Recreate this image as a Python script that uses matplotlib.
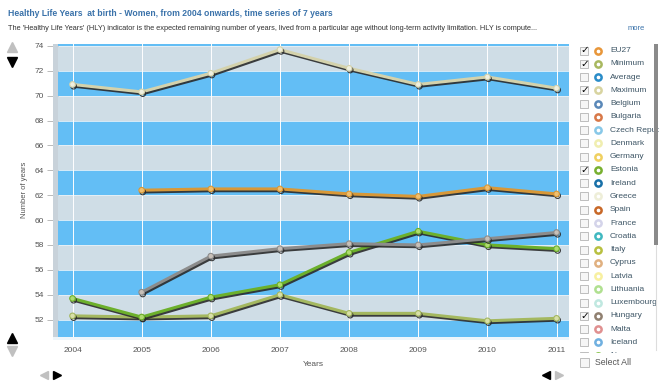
import matplotlib
matplotlib.use('Agg')
import matplotlib.pyplot as plt
import matplotlib.patheffects as pe
from matplotlib.patches import Rectangle

# === data ===
years = [2004, 2005, 2006, 2007, 2008, 2009, 2010, 2011]
maximum = [70.9, 70.3, 71.8, 73.7, 72.2, 70.9, 71.5, 70.6]
eu27 = [None, 62.4, 62.5, 62.5, 62.1, 61.9, 62.6, 62.1]
hungary = [None, 54.2, 57.1, 57.7, 58.1, 58.0, 58.5, 59.0]
estonia = [53.7, 52.2, 53.8, 54.8, 57.4, 59.1, 58.0, 57.7]
minimum = [52.3, 52.2, 52.3, 54.0, 52.5, 52.5, 51.9, 52.1]

yticks = [52, 54, 56, 58, 60, 62, 64, 66, 68, 70, 72, 74]

legend_names = ['EU27', 'Minimum', 'Average', 'Maximum', 'Belgium', 'Bulgaria',
                'Czech Republic', 'Denmark', 'Germany', 'Estonia', 'Ireland', 'Greece',
                'Spain', 'France', 'Croatia', 'Italy', 'Cyprus', 'Latvia', 'Lithuania',
                'Luxembourg', 'Hungary', 'Malta', 'Iceland', 'Norway']
legend_colors = ['#e8963a', '#a8b860', '#2a8cc8', '#d8d4a0', '#5a88b8', '#d87848',
                 '#88c8e8', '#f0eeb0', '#f0d060', '#78b030', '#1870a8', '#eeeed8',
                 '#c86828', '#d4d4ea', '#40b8c0', '#b8c040', '#e0b080', '#f8f0a0',
                 '#b0e090', '#c0e8e0', '#908070', '#e09090', '#70b0e0', '#80c040']
checked = ['EU27', 'Minimum', 'Maximum', 'Estonia', 'Hungary']

W, H = 667, 391
fig = plt.figure(figsize=(W / 100, H / 100), dpi=100)
plt.rcParams['font.family'] = ['Liberation Sans', 'DejaVu Sans']


def fx(x):
    return x / W


def fy(y):
    return 1 - y / H


# === main plot ===
ax = fig.add_axes([fx(58), fy(337), fx(569) - fx(58), fy(44) - fy(337)])
ax.set_xlim(2003.79, 2011.18)
ax.set_ylim(50.6, 74.15)

blue = '#63bef5'
grey = '#cfdde6'
edges = [50.6] + yticks + [74.15]
for lo, hi in zip(edges[:-1], edges[1:]):
    col = blue if (round(hi) % 4 == 0 or hi > 74) else grey
    ax.axhspan(lo, hi, color=col, lw=0, zorder=0)
for v in yticks:
    ax.axhline(v, color='#e8f2f8', lw=0.6, zorder=1)
for yr in years:
    ax.axvline(yr, color='white', lw=0.7, zorder=1)

shadow = [pe.SimpleLineShadow(offset=(0.8, -1.3), shadow_color='#2a2a2a', alpha=0.9), pe.Normal()]


def draw(vals, color, face):
    xs = [x for x, v in zip(years, vals) if v is not None]
    vs = [v for v in vals if v is not None]
    ax.plot(xs, vs, color=color, lw=2.2, zorder=3, path_effects=shadow,
            marker='o', markersize=4, markerfacecolor=face, markeredgecolor=color,
            markeredgewidth=0.8, solid_capstyle='round')


draw(minimum, '#a4b860', '#d8e0a8')
draw(estonia, '#6cb02c', '#b0dc70')
draw(hungary, '#8c8c8c', '#c8c0b8')
draw(eu27, '#d89838', '#f0c070')
draw(maximum, '#d4d2ac', '#f0f0e0')

ax.set_xticks(years)
ax.set_yticks(yticks)
ax.tick_params(axis='x', length=0, pad=7, labelsize=6, labelcolor='#555555')
ax.tick_params(axis='y', length=8, width=0.6, color='#b0b0b0', pad=2,
               labelsize=6, labelcolor='#555555')
for s in ax.spines.values():
    s.set_visible(False)
ax.set_xlabel('Years', fontsize=6, color='#555555', labelpad=5)
fig.text(fx(25), fy(190), 'Number of years', rotation=90, fontsize=5.5,
         color='#555555', ha='center', va='center')

# === decorations overlay ===
ov = fig.add_axes([0, 0, 1, 1], zorder=5)
ov.set_xlim(0, W)
ov.set_ylim(H, 0)
ov.axis('off')
ov.patch.set_alpha(0)

ov.add_patch(Rectangle((53, 44), 5, 293, color='#c8d2da', lw=0))
ov.add_patch(Rectangle((53, 337), 516, 3, color='#eef6fb', lw=0))

title = ov.text(8, 14, 'Healthy Life Years  at birth - Women, from 2004 onwards, time series of 7 years',
                fontsize=7, fontweight='bold', color='#3a72aa', va='center', ha='left')
sub = ov.text(8, 29, "The 'Healthy Life Years' (HLY) indicator is the expected remaining number of years, "
              "lived from a particular age without long-term activity limitation. HLY is compute...",
              fontsize=5, color='#333333', va='center', ha='left')
ov.text(628, 29, 'more', fontsize=5.5, color='#3a72aa', va='center', ha='left')

# fit title widths to the reference
fig.canvas.draw()
r = fig.canvas.get_renderer()
for t, target in [(title, 325), (sub, 547)]:
    w = t.get_window_extent(r).width
    t.set_fontsize(t.get_fontsize() * target / w)

# navigation arrows
ov.plot([12], [47], marker='^', color='#c0c0c0', markersize=7, ls='none')
ov.plot([12], [62], marker='v', color='black', markersize=7, ls='none')
ov.plot([12], [338], marker='^', color='black', markersize=7, ls='none')
ov.plot([12], [351], marker='v', color='#c0c0c0', markersize=7, ls='none')
ov.plot([44], [375], marker='<', color='#c0c0c0', markersize=6, ls='none')
ov.plot([57], [375], marker='>', color='black', markersize=6, ls='none')
ov.plot([546], [375], marker='<', color='black', markersize=6, ls='none')
ov.plot([559], [375], marker='>', color='#c0c0c0', markersize=6, ls='none')

# legend list
row0, step = 50.5, 13.27
for i, (name, col) in enumerate(zip(legend_names, legend_colors)):
    y = row0 + i * step
    ov.add_patch(Rectangle((580, y - 4), 8, 8, facecolor='#f6f6f6', edgecolor='#b4b4b4', lw=0.6))
    if name in checked:
        ov.text(584.5, y, '\u2713', fontsize=7.5, color='black', ha='center', va='center',
                family='DejaVu Sans')
    ov.plot([598], [y], marker='o', markersize=4.5, markerfacecolor='white',
            markeredgecolor=col, markeredgewidth=1.8, ls='none')
    ov.text(610, y, name, fontsize=6, color='#3e5666', va='center', ha='left')

# list is cut off at the bottom and on the right
ov.add_patch(Rectangle((659, 40), 8, 320, color='white', lw=0, zorder=4))
ov.add_patch(Rectangle((575, 353), 90, 38, color='white', lw=0, zorder=4))
ov.add_patch(Rectangle((654, 44), 4, 201, color='#8a8a8a', lw=0, zorder=5))
ov.plot([656, 656], [245, 350], color='#dddddd', lw=0.8, zorder=5)

ov.add_patch(Rectangle((580, 358), 9, 9, facecolor='#f6f6f6', edgecolor='#b4b4b4', lw=0.6, zorder=6))
ov.text(595, 362.5, 'Select All', fontsize=6.3, color='#555555', va='center', ha='left', zorder=6)

fig.savefig('out.png', dpi=100)
